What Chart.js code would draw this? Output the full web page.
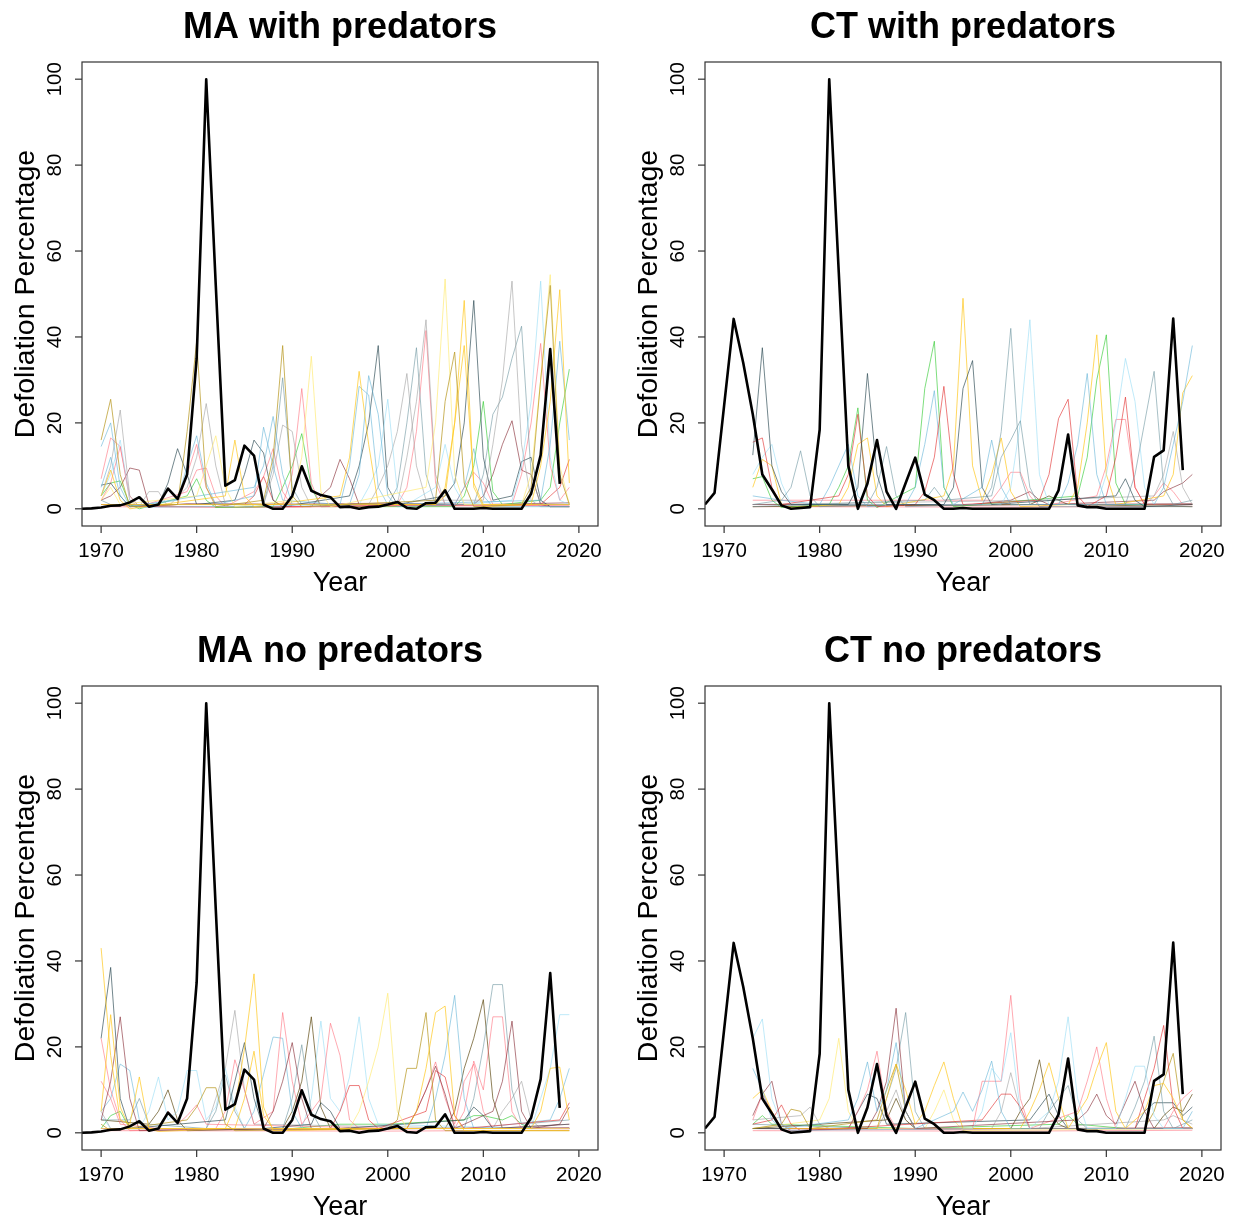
<!DOCTYPE html>
<html>
<head>
<meta charset="utf-8">
<script src="https://cdn.jsdelivr.net/npm/chart.js@4.4.1/dist/chart.umd.min.js"></script>
<style>
  html, body { margin: 0; padding: 0; background: #fff; }
  #wrap { position: relative; width: 1235px; height: 1222px; }
  .panel { position: absolute; width: 612px; height: 598px; }
</style>
</head>
<body>
<div id="wrap">
  <div class="panel" style="left:0;top:0"><canvas id="c0" width="612" height="598"></canvas></div>
  <div class="panel" style="left:623px;top:0"><canvas id="c1" width="612" height="598"></canvas></div>
  <div class="panel" style="left:0;top:624px"><canvas id="c2" width="612" height="598"></canvas></div>
  <div class="panel" style="left:623px;top:624px"><canvas id="c3" width="612" height="598"></canvas></div>
</div>
<script>
const X_TICKS = [1970, 1980, 1990, 2000, 2010, 2020];
const Y_TICKS = [0, 20, 40, 60, 80, 100];
const BLACK_START = 1968;

// observed (black) series, one value per year from 1968
const maBlack = [0, 0.1, 0.3, 0.7, 0.8, 1.5, 2.7, 0.5, 1.0, 4.7,
  2.3, 8, 35, 100, 52, 5.4, 6.7, 14.7, 12.4, 1,
  0, 0, 3, 9.9, 4.2, 3.2, 2.7, 0.4, 0.5, 0,
  0.4, 0.5, 1, 1.6, 0.2, 0, 1.3, 1.4, 4.3, 0,
  0, 0, 0.2, 0, 0, 0, 0, 3.5, 12.5, 37.2,
  5.8];
const ctBlack = [1, 3.7, 24, 44.2, 34, 22, 8, 4.5, 0.8, 0,
  0.2, 0.4, 18.4, 100, 55, 10, 0, 5.9, 16, 4,
  0, 6, 11.9, 3.3, 2, 0, 0, 0.2, 0, 0,
  0, 0, 0, 0, 0, 0, 0, 4.3, 17.3, 0.8,
  0.4, 0.4, 0, 0, 0, 0, 0, 12.1, 13.6, 44.3,
  9];

const COLORS = {
  gold: 'rgba(185,155,40,0.75)',
  yellow: 'rgba(255,200,30,0.7)',
  ltyellow: 'rgba(255,235,120,0.7)',
  ltblue: 'rgba(100,180,215,0.6)',
  cyan: 'rgba(150,220,245,0.6)',
  grey: 'rgba(160,160,160,0.6)',
  slate: 'rgba(40,70,80,0.65)',
  cadet: 'rgba(110,150,160,0.6)',
  pink: 'rgba(255,100,115,0.55)',
  red: 'rgba(225,40,40,0.6)',
  green: 'rgba(40,200,40,0.6)',
  maroon: 'rgba(130,35,45,0.6)',
  olive: 'rgba(95,75,20,0.7)'
};

// simulated runs: [colour, [year, value] points]
const maPredLines = [
  ['gold', [[1970,16],[1971,25.5],[1972,8],[1973,0.5],[1978,1],[1979,18],[1980,39],[1981,5],[1982,0.5],[1987,2],[1988,12],[1989,38],[1990,3],[1991,0.5],[2005,2],[2006,25],[2007,36.5],[2008,6],[2009,0.5],[2014,1],[2015,5],[2016,30],[2017,52],[2018,8],[2019,1]]],
  ['yellow', [[1970,3],[1971,9],[1972,2],[1973,0],[1983,3],[1984,16],[1985,3],[1986,0.5],[1995,3],[1996,12],[1997,32],[1998,15],[1999,1],[2005,1],[2006,5],[2007,20],[2008,48.5],[2009,5],[2010,0.5],[2015,1],[2016,10],[2017,25],[2018,51],[2019,6]]],
  ['yellow', [[1970,1],[2005,1],[2006,3],[2007,20],[2008,38],[2009,6],[2010,1],[2019,1]]],
  ['ltyellow', [[1970,2],[1971,5],[1972,1],[1980,3],[1981,10],[1982,17],[1983,5],[1984,0.5],[1990,2],[1991,12],[1992,35.5],[1993,4],[1994,0.5],[2004,5],[2005,20],[2006,53.5],[2007,8],[2008,1],[2014,1],[2015,8],[2016,30],[2017,54.5],[2018,10],[2019,1]]],
  ['ltblue', [[1970,14.5],[1971,20],[1972,5],[1973,0.5],[1978,2],[1979,10],[1980,17],[1981,6],[1982,1],[1986,3],[1987,19],[1988,10],[1989,2],[1995,1],[1996,10],[1997,28.5],[1998,26.5],[1999,5],[2000,1],[2016,2],[2017,15],[2018,39],[2019,16]]],
  ['ltblue', [[1970,5],[1971,12],[1972,3],[1973,0.5],[1986,5],[1987,10],[1988,21.5],[1989,8],[1990,1],[1996,1],[1997,8],[1998,31],[1999,22],[2000,3],[2001,0.5],[2007,1],[2008,5],[2009,14],[2010,3],[2011,0.5],[2019,0.5]]],
  ['cyan', [[1970,3],[1971,8],[1972,16],[1973,2],[1974,0.3],[1997,1],[1998,5],[1999,10],[2000,25.5],[2001,4],[2002,1],[2005,5],[2006,15],[2007,5],[2008,1],[2013,2],[2014,10],[2015,25],[2016,53],[2017,12],[2018,2],[2019,1]]],
  ['grey', [[1970,3],[1971,10],[1972,23],[1973,3],[1974,0.5],[1975,4],[1976,4],[1977,0.5],[1979,5],[1980,12],[1981,24.5],[1982,10],[1983,1],[1987,1],[1988,8],[1989,19.5],[1990,18],[1991,5],[1992,0.5],[1998,1],[1999,5],[2000,10],[2001,18],[2002,31.5],[2003,10],[2004,2],[2010,2],[2011,15],[2012,30],[2013,53],[2014,15],[2015,2],[2016,0.5],[2019,0.5]]],
  ['grey', [[1970,1],[2001,1],[2002,12],[2003,25],[2004,44],[2005,8],[2006,1],[2019,1]]],
  ['slate', [[1970,5.5],[1971,6],[1972,3],[1973,0.5],[1976,1],[1977,6],[1978,14],[1979,8],[1980,1],[1984,2],[1985,8],[1986,16],[1987,13],[1988,2],[1989,0.5],[1996,3],[1997,10],[1998,20],[1999,38],[2000,5],[2001,1],[2006,3],[2007,6],[2008,20],[2009,48.5],[2010,12],[2011,2],[2013,3],[2014,11],[2015,12],[2016,2],[2017,0.5],[2019,0.5]]],
  ['cadet', [[1970,2],[1971,1],[1987,1],[1988,10],[1989,30.5],[1990,5],[1991,1],[2000,1],[2001,5],[2002,20],[2003,37.5],[2004,8],[2005,1],[2009,1],[2010,8],[2011,22],[2012,26],[2013,35],[2014,42.5],[2015,8],[2016,1],[2019,1]]],
  ['pink', [[1970,7],[1971,16.5],[1972,14.5],[1973,3],[1974,0.5],[1978,1],[1979,8],[1980,15],[1981,5],[1982,1],[1989,1],[1990,8],[1991,28],[1992,6],[1993,0.5],[2001,1],[2002,5],[2003,18],[2004,41.5],[2005,6],[2006,1],[2013,1],[2014,8],[2015,20],[2016,38.5],[2017,10],[2018,2],[2019,5]]],
  ['pink', [[1970,2],[1971,6],[1972,14.5],[1973,2],[1974,0.5],[1979,4],[1980,9],[1981,9.5],[1982,3],[1983,0.5],[1986,4],[1987,7.5],[1988,14],[1989,4],[1990,0.5],[2007,1],[2008,5],[2009,8.5],[2010,6],[2011,1],[2019,0.5]]],
  ['red', [[1970,1],[1985,1],[1986,3],[1987,7.5],[1988,2],[1989,0.5],[2016,1],[2017,3],[2018,5],[2019,11.5]]],
  ['green', [[1970,3],[1971,6],[1972,6.5],[1973,1],[1974,0],[1979,3],[1980,7],[1981,2],[1982,0.3],[1988,0.5],[1989,5],[1990,10],[1991,17.5],[1992,5],[1993,0.5],[2007,0.5],[2008,3],[2009,10],[2010,25],[2011,4],[2012,1],[2016,2],[2017,5],[2018,20],[2019,32.5]]],
  ['maroon', [[1970,2],[1971,3],[1972,5],[1973,9.5],[1974,9],[1975,1],[1976,0.5],[1992,0.5],[1993,3],[1994,5],[1995,11.5],[1996,7],[1997,1],[2009,1],[2010,3],[2011,8],[2012,15],[2013,20.5],[2014,9],[2015,8],[2016,1],[2017,0.5],[2019,0.5]]],
  ['maroon', [[1970,1],[1975,0.5],[1979,1.2],[1990,1.1],[2000,1.3],[2010,1.0],[2019,1.4]]],
  ['pink', [[1970,0.5],[1985,0.3],[2000,0.6],[2019,0.8]]]
];

const ctPredLines = [
  ['slate', [[1973,12.5],[1974,37.5],[1975,10],[1976,4],[1977,1],[1983,1],[1984,5],[1985,31.5],[1986,8],[1987,1],[1993,1],[1994,5],[1995,28],[1996,34.5],[1997,5],[1998,1],[2011,3],[2012,7],[2013,2],[2014,0.5],[2019,1]]],
  ['cadet', [[1973,1],[1976,2],[1977,5],[1978,13.5],[1979,3],[1980,0.5],[1985,1],[1986,5],[1987,14.5],[1988,3],[1989,0.5],[1997,1],[1998,5],[1999,18],[2000,42],[2001,8],[2002,1],[2012,1],[2013,8],[2014,20],[2015,32],[2016,5],[2017,1],[2019,2]]],
  ['cadet', [[1973,0.5],[1991,2],[1992,5],[1993,2],[1998,3],[1999,12],[2000,16],[2001,20.5],[2002,5],[2003,0.5],[2019,0.5]]],
  ['red', [[1973,15.5],[1974,16.5],[1975,5],[1976,1],[1982,3],[1983,8],[1984,22],[1985,3],[1986,0.5],[1990,1],[1991,4],[1992,12],[1993,28.5],[1994,8],[1995,1],[2003,2],[2004,8],[2005,21],[2006,25.5],[2007,3],[2008,0.5],[2010,3],[2011,12],[2012,26],[2013,5],[2014,1],[2019,1]]],
  ['cyan', [[1973,8],[1974,12],[1975,15],[1976,6],[1977,1],[1999,1],[2000,5],[2001,20],[2002,44],[2003,8],[2004,1],[2009,1],[2010,8],[2011,20],[2012,35],[2013,25],[2014,5],[2015,1],[2019,1]]],
  ['ltblue', [[1973,3],[1976,2],[1980,1],[1981,5],[1982,10],[1983,15],[1984,3],[1985,0.5],[1989,1],[1990,5],[1991,15],[1992,27.5],[1993,5],[1994,1],[1997,5],[1998,16],[1999,5],[2000,1],[2005,1],[2006,6],[2007,15],[2008,31.5],[2009,8],[2010,1],[2015,1],[2016,5],[2017,15],[2018,25],[2019,38]]],
  ['yellow', [[1973,5],[1974,11.5],[1975,10],[1976,1],[1977,0.3],[1982,1],[1983,5],[1984,15],[1985,16.5],[1986,3],[1987,0.5],[1993,3],[1994,10],[1995,49],[1996,10],[1997,2],[1998,8],[1999,16.5],[2000,4],[2001,0.5],[2006,1],[2007,5],[2008,20],[2009,40.5],[2010,8],[2011,1],[2016,3],[2017,8],[2018,27],[2019,31]]],
  ['green', [[1973,7],[1974,7.5],[1975,2],[1976,0.3],[1981,1],[1982,5],[1983,10],[1984,23.5],[1985,2],[1986,0.3],[1990,5],[1991,28],[1992,39],[1993,5],[1994,0.5],[2007,3],[2008,12],[2009,30],[2010,40.5],[2011,6],[2012,1],[2019,1]]],
  ['grey', [[1973,1],[2003,2],[2015,3],[2016,8],[2017,18],[2018,5],[2019,1]]],
  ['pink', [[1973,2],[1998,2],[1999,5],[2000,8.5],[2001,8.5],[2002,3],[2003,0.5],[2009,3],[2010,10],[2011,20.8],[2012,20.8],[2013,5],[2014,1],[2015,3],[2016,6],[2017,4],[2018,1],[2019,1]]],
  ['maroon', [[1973,1],[1996,1],[2000,2],[2001,3],[2002,4],[2003,2],[2004,1],[2015,2],[2016,4],[2017,5],[2018,6],[2019,8]]],
  ['olive', [[1973,0.5],[2002,1],[2003,2],[2004,3],[2005,2],[2006,1],[2019,0.5]]],
  ['maroon', [[1973,1],[1990,0.8],[2019,1.2]]],
  ['pink', [[1973,0.5],[2000,0.4],[2019,0.6]]]
];

const maNoPredLines = [
  ['yellow', [[1970,43],[1971,18],[1972,3],[1973,2],[1974,13],[1975,1],[1976,0.3],[1983,1],[1984,6],[1985,19.5],[1986,37],[1987,6],[1988,0.5],[2002,1],[2003,5],[2004,15],[2005,28],[2006,29.5],[2007,4],[2008,0.5],[2019,0.5]]],
  ['yellow', [[1970,5],[1971,27.5],[1972,6],[1973,1],[1984,1],[1985,8],[1986,19],[1987,4],[1988,1],[2015,1],[2016,5],[2017,15],[2018,15.3],[2019,3]]],
  ['gold', [[1970,2],[1971,0.5],[1979,3],[1980,6],[1981,10.5],[1982,10.5],[1983,2],[1984,0.5],[2000,1],[2001,3],[2002,15],[2003,15],[2004,28],[2005,3],[2006,0.5],[2019,0.5]]],
  ['ltyellow', [[1970,1],[1996,1],[1997,5],[1998,12],[1999,20],[2000,32.5],[2001,5],[2002,1],[2019,1]]],
  ['slate', [[1970,22],[1971,38.5],[1972,8],[1973,1],[1983,3],[1984,12],[1985,21],[1986,8],[1987,1],[1992,2],[1993,7],[1994,5],[1995,1],[2008,3],[2009,6],[2010,4],[2011,1],[2019,2]]],
  ['maroon', [[1970,3],[1971,12],[1972,27],[1973,8],[1974,0.5],[1987,1],[1988,5],[1989,12],[1990,21],[1991,8],[1992,1],[2002,1],[2003,5],[2004,10],[2005,15.5],[2006,9],[2007,1],[2011,5],[2012,12],[2013,26],[2014,5],[2015,1],[2018,2],[2019,6]]],
  ['pink', [[1970,22],[1971,10],[1972,3],[1973,0.5],[1982,1],[1983,5],[1984,17],[1985,10],[1986,2],[1988,5],[1989,28],[1990,12],[1991,2],[1993,8],[1994,25.5],[1995,18],[1996,3],[1997,1],[2007,1],[2008,5],[2009,16.7],[2010,10],[2011,27],[2012,27],[2013,5],[2014,1],[2019,1]]],
  ['pink', [[1970,12],[1971,8],[1972,2],[1976,1],[1977,5],[1978,2],[1979,4],[1980,6.5],[1981,2],[2002,1],[2003,5],[2004,10],[2005,16.5],[2006,8],[2007,2],[2008,12],[2009,16],[2010,5],[2011,1],[2019,2]]],
  ['red', [[1970,1],[1994,1],[1995,5],[1996,11],[1997,11],[1998,3],[1999,1],[2004,5],[2005,14.5],[2006,13],[2007,4],[2008,1],[2018,3],[2019,7]]],
  ['ltblue', [[1970,5],[1971,8],[1972,16],[1973,14.5],[1974,3],[1975,0.5],[1985,1],[1986,5],[1987,13.6],[1988,22.3],[1989,22],[1990,5],[1991,1],[2004,1],[2005,8],[2006,18],[2007,32],[2008,8],[2009,1],[2017,3],[2018,8],[2019,15]]],
  ['cadet', [[1970,3],[1973,3],[1974,8],[1975,2],[1981,1],[1982,5],[1983,13.5],[1984,5],[1985,1],[1989,1],[1990,8],[1991,20.5],[1992,5],[1993,1],[2008,1],[2009,8],[2010,20],[2011,34.5],[2012,34.5],[2013,10],[2014,2],[2019,3]]],
  ['cyan', [[1970,4],[1971,1],[1974,1],[1975,5],[1976,13],[1977,3],[1978,5],[1979,14.5],[1980,14.5],[1981,3],[1982,6],[1983,15],[1984,6],[1985,1],[1991,1],[1992,8],[1993,26],[1994,8],[1995,5],[1996,13],[1997,27],[1998,8],[1999,2],[2015,1],[2016,8],[2017,15],[2018,27.5],[2019,27.5]]],
  ['grey', [[1970,5],[1971,1],[1981,1],[1982,8],[1983,15],[1984,28.5],[1985,10],[1986,2],[2011,1],[2012,5],[2013,8],[2014,12],[2015,3],[2016,1],[2019,1]]],
  ['olive', [[1970,3],[1975,2],[1976,5],[1977,10],[1978,3],[1979,0.5],[1989,1],[1990,5],[1991,12],[1992,27],[1993,6],[1994,1],[2006,1],[2007,5],[2008,15],[2009,22],[2010,31],[2011,8],[2012,1],[2019,1]]],
  ['green', [[1970,1],[1971,4],[1972,5],[1973,1],[1990,1],[1995,2],[2000,2],[2008,3],[2009,4],[2010,4],[2012,3],[2013,4],[2014,2],[2015,1],[2019,1]]],
  ['maroon', [[1970,1],[1990,0.8],[2019,1.2]]],
  ['pink', [[1970,0.5],[2000,0.4],[2019,0.6]]]
];

const ctNoPredLines = [
  ['cyan', [[1973,22],[1974,26.5],[1975,8],[1976,2],[1977,0.5],[1996,1],[1997,5],[1998,15],[1999,12],[2000,23.3],[2001,5],[2002,1],[2004,5],[2005,12],[2006,27],[2007,8],[2008,1],[2011,1],[2012,8],[2013,15.5],[2014,15.5],[2015,4],[2016,1],[2019,1]]],
  ['ltblue', [[1973,15],[1974,10],[1975,3],[1976,1],[1983,3],[1984,8],[1985,16.5],[1986,5],[1987,10],[1988,21],[1989,5],[1990,1],[1994,5],[1995,9.5],[1996,5],[1997,10],[1998,16.7],[1999,5],[2000,1],[2018,1],[2019,5]]],
  ['maroon', [[1973,4],[1974,9],[1975,12],[1976,2],[1977,0.5],[1985,1],[1986,5],[1987,12],[1988,29],[1989,5],[1990,1],[2007,3],[2008,5],[2009,9],[2010,4],[2011,2],[2012,7],[2013,12],[2014,5],[2015,1],[2019,1]]],
  ['yellow', [[1973,8],[1974,10],[1975,5],[1976,1],[1986,1],[1987,8],[1988,16],[1989,10],[1990,2],[1991,5],[1992,11],[1993,16.5],[1994,8],[1995,1],[2001,1],[2002,5],[2003,10],[2004,16.3],[2005,8],[2006,1],[2008,8],[2009,15],[2010,21],[2011,5],[2012,1],[2014,5],[2015,11],[2016,11.5],[2017,8],[2018,3],[2019,1]]],
  ['pink', [[1973,3],[1974,9],[1975,5],[1976,1],[1983,1],[1984,5],[1985,10],[1986,19],[1987,5],[1988,1],[1996,1],[1997,12],[1998,12],[1999,12],[2000,32],[2001,8],[2002,1],[2007,5],[2008,12],[2009,20],[2010,8],[2011,1],[2016,1],[2017,5],[2018,8],[2019,10]]],
  ['red', [[1973,2],[1975,3],[1976,6.5],[1977,2],[1978,0.5],[1997,3],[1998,6],[1999,9],[2000,9],[2001,6],[2002,1],[2013,1],[2014,8],[2015,15],[2016,25],[2017,6],[2018,1],[2019,1]]],
  ['gold', [[1973,1],[1976,2],[1977,5.5],[1978,5],[1979,1],[1986,3],[1987,10],[1988,16],[1989,5],[1990,1],[2014,1],[2015,5],[2016,12],[2017,18.5],[2018,3],[2019,1]]],
  ['olive', [[1973,1],[1987,3],[1988,8],[1989,3],[1990,1],[2000,1],[2001,5],[2002,8],[2003,17],[2004,5],[2005,2],[2006,1],[2015,1],[2016,4],[2017,6],[2018,5],[2019,9]]],
  ['grey', [[1973,3],[1978,4],[1979,6],[1980,2],[1981,1],[1986,1],[1987,5],[1988,10],[1989,3],[1990,1],[1998,1],[1999,5],[2000,14],[2001,5],[2002,1],[2016,3],[2017,4],[2018,3],[2019,2]]],
  ['cadet', [[1973,2],[1986,1],[1987,8],[1988,15],[1989,28],[1990,5],[1991,1],[2003,1],[2004,5],[2005,8],[2006,11],[2007,3],[2008,1],[2012,1],[2013,6],[2014,12],[2015,22.5],[2016,5],[2017,1],[2019,3]]],
  ['slate', [[1973,1],[1983,1],[1984,5],[1985,9],[1986,8],[1987,2],[2002,3],[2003,6],[2004,9],[2005,4],[2006,1],[2013,1],[2014,5],[2015,7],[2016,7],[2017,7],[2018,4],[2019,6]]],
  ['ltyellow', [[1973,1],[1980,3],[1981,8],[1982,22],[1983,5],[1984,1],[1991,1],[1992,5],[1993,10],[1994,3],[1995,0.5],[2019,1]]],
  ['green', [[1973,2],[1974,4],[1975,2],[1990,1],[2005,2],[2006,4],[2007,2],[2012,1],[2016,1],[2019,1]]],
  ['maroon', [[1973,1],[1990,0.8],[2019,1.2]]],
  ['pink', [[1973,0.5],[2000,0.4],[2019,0.6]]]
];

const FONT = '"Liberation Sans", Arial, Helvetica, sans-serif';

// R-style frame, ticks and labels drawn on the chart's own scales
const rAxes = {
  id: 'rAxes',
  afterDraw(chart, args, opts) {
    const { ctx, chartArea: a, scales: { x, y } } = chart;
    ctx.save();
    ctx.strokeStyle = '#333';
    ctx.lineWidth = 1.2;
    ctx.strokeRect(a.left, a.top, a.right - a.left, a.bottom - a.top);
    ctx.fillStyle = '#000';
    ctx.font = '20.5px ' + FONT;
    ctx.textAlign = 'center';
    ctx.textBaseline = 'middle';

    X_TICKS.forEach(v => {
      const px = x.getPixelForValue(v);
      ctx.beginPath(); ctx.moveTo(px, a.bottom); ctx.lineTo(px, a.bottom + 7); ctx.stroke();
      ctx.fillText(String(v), px, a.bottom + 25);
    });
    Y_TICKS.forEach(v => {
      const py = y.getPixelForValue(v);
      ctx.beginPath(); ctx.moveTo(a.left, py); ctx.lineTo(a.left - 7, py); ctx.stroke();
      ctx.save();
      ctx.translate(a.left - 27, py);
      ctx.rotate(-Math.PI / 2);
      ctx.fillText(String(v), 0, 0);
      ctx.restore();
    });

    const cx = (a.left + a.right) / 2;
    ctx.font = 'bold 36px ' + FONT;
    ctx.fillText(opts.title, cx, 28);
    ctx.font = '27px ' + FONT;
    ctx.fillText('Year', cx, a.bottom + 58);
    ctx.font = '28.5px ' + FONT;
    ctx.save();
    ctx.translate(26, (a.top + a.bottom) / 2);
    ctx.rotate(-Math.PI / 2);
    ctx.fillText('Defoliation Percentage', 0, 0);
    ctx.restore();
    ctx.restore();
  }
};

const buildChart = (id, title, black, lines) => {
  const datasets = [{
    data: black.map((v, i) => ({ x: BLACK_START + i, y: v })),
    borderColor: '#000',
    borderWidth: 2.6,
  }];
  lines.forEach(([col, pts]) => {
    datasets.push({
      data: pts.map(([yr, v]) => ({ x: yr, y: v })),
      borderColor: COLORS[col],
      borderWidth: 1,
    });
  });

  new Chart(document.getElementById(id), {
    type: 'line',
    data: { datasets },
    options: {
      responsive: false,
      animation: false,
      layout: { padding: { left: 82, right: 14, top: 62, bottom: 72 } },
      elements: { point: { radius: 0 }, line: { tension: 0, borderJoinStyle: 'round' } },
      plugins: {
        legend: { display: false },
        tooltip: { enabled: false },
        rAxes: { title },
      },
      scales: {
        x: { type: 'linear', min: 1968, max: 2022, display: false },
        y: { min: -4, max: 104, display: false },
      },
    },
    plugins: [rAxes],
  });
};

buildChart('c0', 'MA with predators', maBlack, maPredLines);
buildChart('c1', 'CT with predators', ctBlack, ctPredLines);
buildChart('c2', 'MA no predators', maBlack, maNoPredLines);
buildChart('c3', 'CT no predators', ctBlack, ctNoPredLines);
</script>
</body>
</html>
